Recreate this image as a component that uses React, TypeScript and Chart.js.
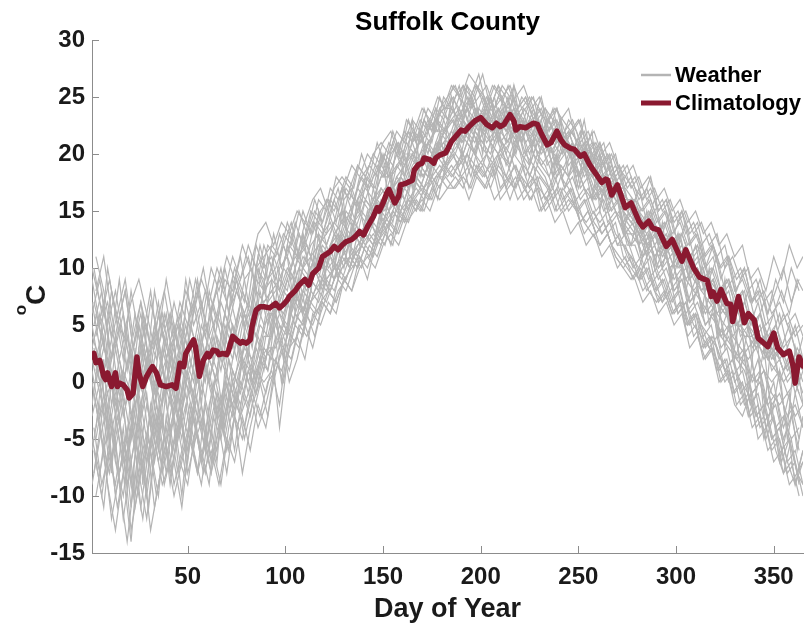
import React, { useEffect, useRef } from 'react';
import { Chart, registerables } from 'chart.js';

Chart.register(...registerables);

const TITLE = 'Suffolk County';
const X_TITLE = 'Day of Year';
const Y_TITLE_SUP = 'o';
const Y_TITLE_MAIN = 'C';
const LEGEND_LABELS = ['Weather', 'Climatology'];
const X_TICKS = [50, 100, 150, 200, 250, 300, 350];
const Y_TICKS = [-15, -10, -5, 0, 5, 10, 15, 20, 25, 30];

const CLIM_DAYS = [1, 2, 3, 5, 7, 8, 9, 11, 13, 14, 15, 17, 19, 20, 22, 24, 25, 27, 29, 31, 32, 34, 36, 39, 42, 44, 46, 48, 49, 51, 53, 54, 56, 58, 60, 61, 63, 65, 66, 68, 70, 71, 73, 75, 77, 78, 80, 82, 83, 85, 87, 89, 92, 95, 97, 99, 101, 102, 105, 107, 110, 112, 114, 117, 119, 123, 125, 127, 129, 131, 134, 136, 138, 140, 142, 145, 147, 148, 150, 152, 153, 156, 158, 159, 162, 165, 166, 168, 170, 171, 174, 176, 177, 179, 182, 183, 185, 188, 190, 192, 194, 197, 200, 201, 203, 206, 208, 210, 212, 213, 215, 217, 218, 220, 223, 227, 229, 231, 234, 236, 239, 241, 243, 246, 248, 251, 253, 256, 258, 260, 262, 264, 265, 267, 270, 274, 277, 281, 283, 286, 288, 291, 295, 298, 300, 303, 305, 309, 312, 316, 318, 319, 321, 323, 326, 328, 329, 332, 334, 335, 337, 340, 342, 345, 347, 350, 352, 355, 358, 360, 361, 363, 365];
const CLIM_VALUES = [2.2, 2.5, 1.7, 1.9, 0.5, 0.2, 0.8, -0.4, 0.8, -0.4, -0.1, -0.25, -0.7, -1.4, -1.0, 2.2, 0.8, -0.4, 0.5, 1.1, 1.35, 0.8, -0.25, -0.4, -0.25, -0.55, 1.65, 1.35, 2.5, 3.1, 3.7, 3.1, 0.5, 1.9, 2.5, 2.2, 2.8, 2.7, 2.4, 2.5, 2.4, 2.8, 4.0, 3.7, 3.4, 3.55, 3.4, 3.7, 4.9, 6.3, 6.6, 6.6, 6.5, 6.9, 6.5, 6.8, 7.2, 7.5, 8.0, 8.5, 9.0, 8.5, 9.5, 10.0, 11.0, 11.45, 11.9, 11.6, 12.0, 12.3, 12.5, 12.8, 13.2, 12.9, 13.6, 14.5, 15.3, 15.0, 15.7, 16.6, 16.9, 15.7, 16.3, 17.3, 17.45, 17.7, 18.6, 19.05, 19.2, 19.65, 19.5, 19.2, 19.65, 19.9, 20.1, 20.4, 21.1, 21.7, 22.1, 22.0, 22.4, 22.9, 23.2, 23.0, 22.6, 22.3, 22.7, 22.4, 22.6, 22.9, 23.45, 22.9, 22.1, 22.4, 22.3, 22.7, 22.6, 21.8, 20.8, 21.0, 22.0, 21.25, 20.8, 20.5, 20.4, 19.8, 20.0, 19.0, 18.5, 18.0, 17.5, 17.8, 17.7, 16.4, 17.3, 15.3, 15.7, 14.1, 13.6, 14.1, 13.5, 13.35, 11.9, 12.5, 11.75, 10.6, 11.6, 10.0, 9.2, 8.9, 7.5, 7.9, 7.1, 8.1, 6.9, 6.8, 5.3, 7.5, 6.0, 5.2, 6.0, 5.45, 3.85, 3.4, 3.1, 4.3, 3.0, 2.4, 2.7, 1.35, -0.1, 2.2, 1.4];

const WEATHER_DAYS_A = [1, 5, 9, 13, 17, 21, 25, 29, 33, 37, 41, 45, 49, 53, 57, 61, 65, 69, 73, 77, 81, 85, 89,
  93, 97, 101, 105, 109, 113, 117, 121, 125, 129, 133, 137, 141, 145, 149, 153, 157, 161, 165, 169, 173, 177, 181,
  185, 189, 193, 197, 201, 205, 209, 213, 217, 221, 225, 229, 233, 237, 241, 245, 249, 253, 257, 261, 265, 269, 273,
  277, 281, 285, 289, 293, 297, 301, 305, 309, 313, 317, 321, 325, 329, 333, 337, 341, 345, 349, 353, 357, 361, 365];
const WEATHER_DAYS_B = [3, 7, 11, 15, 19, 23, 27, 31, 35, 39, 43, 47, 51, 55, 59, 63, 67, 71, 75, 79, 83, 87, 91,
  95, 99, 103, 107, 111, 115, 119, 123, 127, 131, 135, 139, 143, 147, 151, 155, 159, 163, 167, 171, 175, 179, 183,
  187, 191, 195, 199, 203, 207, 211, 215, 219, 223, 227, 231, 235, 239, 243, 247, 251, 255, 259, 263, 267, 271, 275,
  279, 283, 287, 291, 295, 299, 303, 307, 311, 315, 319, 323, 327, 331, 335, 339, 343, 347, 351, 355, 359, 363];
const WEATHER_DAYS_C = [2, 6, 10, 14, 18, 22, 26, 30, 34, 38, 42, 46, 50, 54, 58, 62, 66, 70, 74, 78, 82, 86, 90,
  94, 98, 102, 106, 110, 114, 118, 122, 126, 130, 134, 138, 142, 146, 150, 154, 158, 162, 166, 170, 174, 178, 182,
  186, 190, 194, 198, 202, 206, 210, 214, 218, 222, 226, 230, 234, 238, 242, 246, 250, 254, 258, 262, 266, 270, 274,
  278, 282, 286, 290, 294, 298, 302, 306, 310, 314, 318, 322, 326, 330, 334, 338, 342, 346, 350, 354, 358, 362, 365];

const WEATHER_1 = [6, 9, 4, -3, -7, -5, 3, 5, 1, -4, 3, -2, 7, 4, -2, 6, 8, 3, 9, 7, 2, 10, 9,
  4, 10, 11, 6, 13, 9, 15, 12, 14, 17, 11, 16, 18, 14, 20, 16, 21, 18, 23, 19, 22, 24, 20,
  25, 21, 26, 24, 20, 25, 23, 21, 26, 22, 19, 24, 23, 18, 22, 21, 17, 20, 22, 15, 19, 17, 13,
  16, 12, 15, 10, 14, 9, 13, 8, 11, 6, 10, 4, 9, 2, 6, -1, 5, -3, 4, 0, -4, 3, -2];
const WEATHER_2 = [-3, 0, -6, -9, -4, -11, -2, -7, -3, -8, -5, -1, -4, -6, 0, -3, -7, 1, -1, 3, 0, 2, 5,
  9, 3, 5, 10, 6, 8, 13, 9, 10, 15, 12, 16, 13, 17, 14, 19, 16, 20, 17, 22, 19, 20, 23,
  21, 24, 22, 20, 23, 25, 21, 24, 20, 23, 21, 19, 22, 20, 23, 18, 21, 19, 16, 20, 15, 17, 14,
  12, 15, 11, 14, 10, 13, 8, 12, 7, 10, 5, 8, 3, 7, 1, 5, -1, 3, -3, 1, -5, -1, -4];
const WEATHER_3 = [9, 5, 7, 3, 6, 2, 5, 1, 8, 4, 6, 3, 9, 5, 7, 4, 6, 9, 8, 11, 7, 12, 10,
  11, 8, 12, 10, 13, 11, 14, 13, 16, 14, 17, 15, 18, 17, 20, 19, 21, 20, 22, 21, 23, 22, 25,
  24, 26, 23, 25, 22, 24, 26, 23, 25, 21, 24, 23, 22, 24, 21, 22, 20, 23, 19, 21, 18, 19, 17,
  15, 17, 14, 16, 13, 15, 12, 14, 11, 12, 9, 11, 8, 9, 6, 8, 5, 7, 4, 6, 3, 5, 2];
const WEATHER_4 = [0, -4, -9, -13, -8, -14, -6, -10, -5, -9, -7, -4, -8, -3, -6, -9, -2, -5, -1, -3, 1, -1, 2,
  3, -4, 2, 5, 4, 7, 6, 9, 8, 10, 11, 12, 13, 12, 14, 15, 16, 17, 18, 17, 19, 20, 21,
  20, 21, 19, 22, 21, 20, 22, 19, 21, 20, 18, 20, 19, 17, 19, 18, 16, 17, 15, 14, 15, 13, 12,
  11, 10, 12, 9, 10, 8, 9, 6, 7, 5, 4, 3, 1, 2, 0, -1, -3, -2, -5, -4, -7, -6, -9];
const WEATHER_5 = [4, 2, -1, 1, -3, 0, -4, 2, -1, 1, -2, 2, 1, -2, 3, 0, 4, 2, 5, 3, 6, 4, 7,
  8, 6, 9, 7, 10, 9, 11, 10, 13, 12, 14, 13, 16, 15, 17, 16, 18, 19, 20, 19, 21, 22, 22,
  23, 22, 24, 23, 22, 24, 23, 22, 24, 23, 21, 23, 22, 21, 22, 20, 21, 19, 20, 18, 17, 18, 16,
  15, 14, 13, 14, 12, 13, 11, 12, 10, 9, 8, 7, 6, 5, 5, 4, 3, 4, 2, 3, 1, 2, 1];
const WEATHER_6 = [-6, -2, -8, -5, -12, -7, -3, -9, -2, -6, -1, -5, 0, -3, -7, -2, 1, -4, 0, 2, -1, 3, 1,
  5, 7, 4, 8, 6, 9, 8, 11, 9, 12, 10, 13, 12, 14, 13, 16, 15, 17, 16, 19, 18, 20, 19,
  20, 19, 21, 20, 19, 21, 20, 18, 20, 19, 17, 19, 18, 16, 18, 17, 15, 16, 14, 15, 13, 14, 11,
  10, 9, 11, 8, 9, 7, 8, 5, 6, 3, 4, 1, 2, -1, 0, -3, -1, -5, -2, -7, -4, -9, -6];
const WEATHER_7 = [7, 3, 10, 6, 2, 8, 4, 0, 5, 2, 6, 1, 4, 7, 3, 8, 5, 10, 7, 9, 11, 8, 12,
  10, 13, 11, 14, 12, 15, 14, 16, 15, 17, 16, 19, 18, 20, 19, 21, 20, 22, 21, 23, 22, 24, 23,
  25, 24, 26, 25, 27, 24, 26, 25, 23, 25, 24, 22, 24, 23, 21, 23, 22, 20, 21, 19, 20, 18, 19,
  17, 18, 16, 17, 15, 16, 14, 15, 13, 14, 12, 13, 10, 11, 9, 10, 7, 8, 6, 7, 5, 6, 4];
const WEATHER_8 = [2, -1, -4, 0, -6, -3, -1, -5, 0, -2, 2, -3, 1, -1, 4, 0, 3, 1, 5, 2, 4, 7, 5,
  6, 4, 7, 5, 8, 7, 9, 8, 10, 11, 10, 12, 13, 12, 15, 14, 16, 15, 18, 17, 19, 20, 21,
  22, 21, 22, 21, 23, 21, 22, 20, 22, 21, 23, 20, 21, 19, 20, 21, 18, 19, 17, 16, 17, 15, 14,
  13, 12, 13, 11, 12, 10, 11, 9, 10, 8, 7, 6, 5, 4, 3, 2, 3, 1, 0, 1, -1, 0, -2];
const WEATHER_9 = [-9, -5, -2, -7, -10, -4, -8, -12, -6, -3, -8, -5, -2, -6, -9, -4, -1, -3, 0, -2, 1, -1, 3,
  2, 5, 3, 6, 5, 8, 7, 9, 10, 9, 11, 10, 12, 11, 13, 14, 13, 15, 16, 15, 17, 18, 19,
  18, 19, 20, 18, 19, 17, 19, 18, 17, 18, 16, 17, 15, 16, 17, 15, 16, 14, 13, 12, 13, 11, 10,
  9, 10, 8, 9, 7, 8, 6, 7, 4, 5, 3, 2, 0, 1, -2, -1, -4, -3, -6, -5, -8, -7, -10];
const WEATHER_10 = [3, 6, 1, 4, 0, 3, -1, 2, 4, 1, 3, 5, 2, 4, 1, 3, 6, 4, 2, 5, 7, 5, 8,
  9, 8, 10, 9, 11, 10, 12, 11, 13, 14, 13, 15, 14, 16, 17, 16, 18, 17, 19, 20, 21, 20, 22,
  23, 24, 22, 23, 25, 23, 24, 22, 23, 24, 22, 23, 21, 22, 21, 22, 20, 21, 19, 20, 18, 17, 16,
  16, 15, 14, 15, 13, 12, 13, 11, 10, 11, 9, 8, 7, 6, 7, 5, 4, 5, 3, 2, 3, 2, 0];
const WEATHER_11 = [-2, 3, -5, -1, 1, -3, -7, -2, -5, 0, -4, -1, -6, -2, -4, 1, -3, 0, -2, 1, 3, 0, 4,
  4, 6, 5, 7, 6, 9, 8, 10, 9, 11, 12, 11, 13, 14, 16, 15, 17, 16, 18, 19, 18, 21, 20,
  21, 22, 21, 20, 22, 21, 20, 21, 22, 20, 19, 21, 20, 18, 19, 18, 19, 17, 16, 17, 14, 15, 13,
  12, 13, 11, 12, 10, 11, 9, 10, 8, 7, 6, 5, 4, 3, 2, 1, 0, 1, -1, -2, -1, -3, -2];
const WEATHER_12 = [10, 7, 5, 8, 4, 7, 9, 6, 3, 6, 2, 5, 8, 6, 9, 7, 10, 8, 11, 9, 12, 10, 11,
  12, 11, 14, 12, 15, 13, 16, 15, 17, 18, 17, 19, 18, 20, 21, 20, 22, 21, 23, 22, 24, 23, 24,
  26, 25, 24, 26, 25, 23, 25, 24, 26, 24, 25, 23, 24, 22, 23, 24, 21, 22, 20, 21, 19, 20, 17,
  18, 16, 17, 15, 16, 14, 15, 13, 14, 12, 13, 11, 12, 9, 10, 8, 9, 7, 8, 5, 6, 4, 5];
const WEATHER_13 = [1, -3, -1, -6, -2, -9, -4, -1, -7, -3, -9, -4, -1, -5, -2, -6, -1, -4, 1, -1, 2, 0, 3,
  7, 5, 4, 9, 7, 11, 9, 12, 10, 13, 12, 14, 16, 15, 17, 16, 19, 18, 20, 18, 21, 19, 22,
  21, 23, 24, 22, 21, 23, 22, 24, 21, 22, 20, 22, 21, 20, 21, 19, 20, 18, 19, 17, 18, 16, 15,
  14, 13, 12, 11, 12, 10, 11, 9, 8, 9, 6, 7, 4, 5, 2, 3, 0, 1, -2, -1, -3, -2, -4];
const WEATHER_14 = [5, 1, -3, 3, -1, -5, 0, 3, -2, 1, -1, 2, 5, 2, -1, 2, 0, 5, 3, 6, 4, 8, 7,
  8, 9, 8, 12, 10, 11, 12, 13, 14, 13, 15, 16, 17, 16, 18, 18, 19, 20, 20, 21, 22, 23, 24,
  24, 23, 25, 24, 23, 22, 24, 23, 22, 23, 22, 21, 22, 21, 20, 21, 20, 19, 18, 19, 17, 16, 15,
  14, 15, 12, 13, 11, 12, 10, 11, 9, 8, 9, 7, 6, 7, 4, 5, 3, 4, 1, 2, 0, 1, -1];
const WEATHER_15 = [-5, -8, -3, -10, -6, -13, -9, -5, -11, -7, -4, -8, -5, -2, -7, -4, -6, -1, -3, 0, -2, 1, 0,
  1, -2, 3, 6, 5, 7, 8, 7, 9, 10, 11, 10, 12, 13, 12, 14, 15, 14, 16, 17, 16, 18, 18,
  19, 18, 20, 19, 18, 19, 20, 17, 19, 18, 17, 18, 16, 17, 15, 16, 15, 13, 14, 12, 13, 11, 10,
  11, 9, 10, 8, 7, 9, 6, 7, 5, 4, 3, 4, 1, 2, -1, 0, -3, -2, -5, -4, -7, -9, -7];
const WEATHER_16 = [3, 0, 2, -2, 1, -1, 5, 2, -2, 3, 0, -3, 2, 0, 5, 3, 1, 6, 4, 7, 5, 9, 8,
  10, 7, 9, 11, 10, 12, 13, 12, 14, 15, 14, 17, 16, 18, 19, 18, 20, 19, 21, 22, 20, 23, 22,
  24, 23, 22, 24, 23, 25, 22, 23, 24, 22, 23, 22, 20, 22, 21, 20, 19, 21, 18, 17, 16, 17, 14,
  15, 13, 14, 12, 13, 11, 12, 9, 10, 8, 9, 6, 7, 4, 5, 3, 4, 2, 3, 0, 2, -1, 1];

const WEATHER_17 = [8, 11, 6, 2, 5, -1, 4, 8, 3, 6, 1, 4, 9, 6, 2, 7, 4, 8, 5, 9, 10, 6, 11,
  9, 12, 10, 13, 11, 14, 13, 15, 17, 14, 16, 18, 17, 19, 18, 21, 19, 22, 20, 23, 21, 24, 23,
  24, 26, 25, 27, 24, 26, 25, 26, 24, 25, 23, 25, 22, 24, 22, 23, 21, 22, 20, 21, 18, 19, 17,
  18, 16, 17, 15, 16, 13, 15, 12, 13, 10, 12, 9, 11, 8, 10, 7, 9, 6, 8, 10, 7, 9];
const WEATHER_18 = [-7, -11, -4, -9, -14, -8, -12, -6, -10, -3, -7, -11, -5, -8, -2, -6, -9, -4, -1, -5, -2, 0, -3,
  2, 0, 4, 3, 6, 4, 7, 6, 9, 8, 10, 12, 11, 13, 12, 15, 14, 16, 15, 17, 16, 18, 17,
  18, 17, 19, 18, 17, 19, 18, 16, 18, 17, 19, 16, 17, 15, 16, 17, 14, 15, 13, 14, 12, 13, 11,
  10, 8, 9, 7, 8, 6, 7, 5, 6, 3, 4, 2, 0, 1, -2, -1, -4, -3, -6, -8, -5, -9];
const WEATHER_19 = [1, 4, -2, 2, -1, -4, 3, 0, 4, -1, 2, -2, 5, 3, 0, 4, 1, 5, 2, 6, 3, 8, 5,
  7, 5, 8, 10, 9, 11, 10, 12, 13, 11, 14, 13, 15, 16, 15, 17, 18, 17, 19, 20, 18, 21, 20,
  22, 21, 23, 22, 24, 21, 23, 22, 21, 23, 20, 22, 21, 19, 21, 20, 18, 20, 17, 18, 16, 17, 15,
  14, 13, 15, 12, 13, 11, 12, 10, 11, 8, 9, 7, 8, 5, 6, 4, 5, 2, 3, 1, 2, 0];
const WEATHER_20 = [-4, 2, -8, 1, -5, 3, -9, -2, -6, 2, -4, -10, -3, 1, -5, 0, -3, 2, -2, 4, 0, 3, 1,
  6, 2, 7, 9, 6, 10, 8, 12, 9, 13, 11, 12, 14, 13, 16, 14, 17, 15, 18, 17, 19, 18, 21,
  20, 22, 21, 23, 20, 22, 21, 19, 22, 20, 21, 19, 20, 18, 19, 21, 17, 18, 16, 17, 15, 16, 14,
  13, 11, 12, 10, 11, 9, 10, 7, 8, 6, 7, 4, 5, 2, 3, 0, 1, -2, -1, -4, -2, -5];
const WEATHER_21 = [6, 3, 8, 5, 1, 6, 2, 7, 4, 9, 5, 2, 6, 8, 4, 7, 10, 6, 9, 7, 11, 9, 12,
  11, 13, 12, 15, 13, 16, 14, 17, 16, 18, 17, 20, 18, 21, 19, 22, 20, 23, 21, 24, 22, 25, 23,
  25, 26, 24, 25, 26, 24, 25, 23, 24, 25, 23, 24, 22, 23, 21, 22, 23, 20, 21, 19, 20, 18, 19,
  17, 16, 18, 15, 16, 14, 15, 13, 14, 11, 12, 10, 11, 9, 10, 7, 8, 6, 9, 7, 10, 8];
const WEATHER_22 = [-2, -6, -3, -8, -4, -10, -6, -3, -7, -4, -9, -6, -2, -5, -8, -3, -5, -1, -4, -2, 0, 2, 1,
  4, 3, 5, 7, 6, 8, 9, 8, 10, 11, 10, 12, 13, 12, 14, 15, 14, 16, 17, 16, 18, 19, 18,
  19, 20, 18, 21, 20, 19, 21, 20, 18, 20, 19, 18, 17, 19, 17, 18, 16, 17, 15, 16, 14, 15, 12,
  12, 10, 11, 9, 10, 8, 9, 6, 7, 5, 6, 3, 4, 1, 2, -1, 0, -3, -2, -5, -3, -6];
const WEATHER_23 = [4, 7, 2, 5, 3, 0, 6, 3, 7, 2, 5, 1, 4, 9, 5, 3, 7, 5, 8, 6, 4, 9, 7,
  8, 10, 9, 11, 12, 10, 13, 14, 12, 15, 14, 16, 15, 17, 19, 17, 18, 20, 19, 21, 20, 22, 21,
  23, 24, 22, 24, 23, 25, 22, 24, 23, 22, 24, 21, 23, 21, 22, 20, 22, 19, 20, 18, 19, 17, 16,
  16, 14, 15, 13, 14, 12, 13, 11, 12, 10, 11, 8, 9, 7, 8, 5, 6, 4, 5, 3, 4, 2];
const WEATHER_24 = [-10, -6, -12, -8, -5, -11, -7, -13, -9, -6, -10, -7, -4, -8, -5, -7, -3, -6, -2, -4, -1, -3, 0,
  1, 3, 2, 5, 4, 6, 7, 6, 8, 9, 11, 10, 12, 11, 13, 12, 15, 14, 16, 15, 17, 16, 17,
  17, 18, 17, 19, 18, 16, 17, 18, 16, 17, 18, 15, 16, 17, 15, 16, 14, 15, 13, 14, 12, 11, 10,
  9, 7, 8, 6, 7, 5, 6, 3, 4, 2, 3, 0, 1, -2, -1, -4, -3, -6, -5, -8, -7, -10];
const WEATHER_25 = [2, 5, 0, -3, 2, -2, 1, -4, 3, 0, -2, 1, -1, 4, 1, -1, 3, 0, 4, 1, 5, 3, 6,
  6, 8, 7, 9, 8, 10, 12, 11, 13, 12, 14, 15, 14, 16, 17, 16, 18, 17, 19, 18, 20, 21, 20,
  22, 23, 22, 21, 23, 22, 24, 22, 21, 22, 21, 23, 20, 21, 22, 19, 20, 21, 18, 19, 17, 18, 16,
  15, 13, 14, 12, 13, 11, 12, 9, 10, 8, 9, 6, 7, 5, 6, 3, 4, 2, 3, 1, 2, 0];
const WEATHER_26 = [11, 8, 4, 9, 3, -1, 5, 1, 6, 3, 7, 4, 1, 5, 8, 5, 2, 6, 9, 5, 8, 12, 9,
  10, 12, 14, 11, 13, 15, 14, 16, 15, 17, 16, 18, 19, 18, 20, 19, 21, 22, 21, 23, 22, 24, 25,
  26, 24, 25, 23, 25, 24, 26, 25, 23, 24, 25, 22, 23, 24, 21, 22, 20, 21, 19, 20, 18, 19, 16,
  16, 15, 16, 14, 15, 12, 13, 11, 12, 9, 10, 8, 9, 6, 7, 5, 6, 3, 4, 6, 4, 5];
const WEATHER_27 = [-5, -1, -7, -3, -9, -5, -1, -6, -3, -8, -2, -5, 0, -3, -6, -1, -4, 0, -2, 1, -1, 2, 3,
  3, 5, 4, 6, 7, 6, 9, 8, 10, 9, 11, 12, 11, 13, 14, 13, 15, 16, 15, 17, 18, 17, 19,
  20, 19, 21, 19, 20, 18, 20, 19, 21, 18, 20, 19, 18, 20, 17, 19, 18, 16, 17, 15, 16, 14, 13,
  13, 11, 12, 10, 11, 8, 9, 7, 8, 5, 6, 4, 3, 2, 1, -1, 0, -2, -4, -3, -5, -4];
const WEATHER_28 = [0, 3, 1, -2, 4, 1, -1, 2, -3, 0, 3, -1, 2, 0, 3, 1, -2, 2, 0, 3, 2, 5, 4,
  7, 6, 8, 7, 9, 10, 9, 11, 10, 12, 13, 12, 14, 15, 14, 16, 15, 17, 18, 17, 19, 20, 19,
  21, 20, 22, 23, 21, 22, 20, 21, 23, 21, 22, 20, 21, 19, 20, 21, 19, 20, 18, 17, 18, 16, 15,
  14, 12, 13, 11, 12, 10, 11, 9, 10, 8, 9, 7, 6, 5, 4, 4, 3, 2, 1, 0, 1, -1];

const WEATHER_29 = [-4, -9, -6, -11, -7, -3, -8, -5, -10, -6, -2, -7, -9, -4, -8, -6, -9, -5, -7, -3, -6, -2, -4,
  0, 3, 1, 4, 2, 6, 5, 7, 6, 9, 8, 10, 11, 10, 12, 13, 12, 14, 15, 16, 15, 17, 18,
  17, 18, 16, 18, 17, 19, 16, 17, 18, 16, 17, 15, 16, 14, 15, 13, 14, 12, 13, 11, 12, 10, 11,
  9, 10, 8, 7, 8, 6, 7, 4, 5, 2, 3, 0, 1, -2, -3, -1, -5, -4, -7, -6, -9, -8, -7];
const WEATHER_30 = [10, 6, 9, 5, 8, 3, 7, 4, 2, 6, 3, 7, 5, 9, 6, 10, 8, 11, 9, 12, 10, 13, 14,
  12, 14, 13, 15, 14, 16, 17, 15, 18, 17, 19, 18, 20, 19, 21, 22, 20, 23, 22, 24, 23, 25, 24,
  26, 25, 27, 26, 24, 26, 25, 24, 25, 26, 24, 25, 23, 24, 23, 22, 23, 21, 22, 20, 21, 19, 18,
  19, 17, 18, 16, 17, 15, 16, 14, 15, 13, 14, 12, 13, 11, 12, 9, 10, 8, 11, 9, 12, 10, 11];
const WEATHER_31 = [-1, -5, -8, -3, -6, -10, -4, -7, -2, -5, -8, -3, -6, -1, -4, -8, -5, -2, -6, -1, -3, 1, -1,
  2, 1, 3, 4, 6, 5, 7, 8, 7, 9, 10, 11, 10, 12, 13, 14, 13, 15, 16, 17, 16, 18, 19,
  20, 18, 19, 21, 19, 18, 20, 19, 17, 19, 18, 17, 16, 18, 16, 17, 15, 14, 15, 13, 14, 12, 13,
  11, 9, 10, 8, 9, 7, 8, 5, 6, 4, 5, 2, 3, 0, 1, -2, -1, -4, -3, -6, -5, -8, -6];
const WEATHER_32 = [5, 8, 3, 6, 9, 4, 7, 2, 5, 8, 4, 6, 3, 7, 10, 6, 9, 7, 10, 8, 6, 11, 9,
  13, 10, 12, 11, 14, 13, 15, 16, 14, 17, 15, 18, 17, 19, 18, 20, 21, 19, 22, 21, 23, 22, 24,
  25, 23, 24, 26, 25, 23, 24, 26, 24, 23, 25, 24, 22, 23, 21, 22, 21, 20, 21, 19, 20, 17, 18,
  17, 15, 16, 14, 15, 13, 14, 12, 13, 11, 12, 10, 11, 8, 9, 7, 8, 5, 6, 8, 6, 9, 8];
const WEATHER_33 = [-8, -3, 1, -4, -9, -2, -6, -11, -5, 0, -6, -3, -7, -1, -5, -8, -2, -6, -3, -8, -4, -1, 2,
  5, 0, 6, 8, 5, 9, 11, 8, 12, 10, 14, 12, 15, 13, 16, 18, 15, 19, 17, 20, 18, 21, 19,
  22, 20, 23, 21, 24, 20, 22, 21, 23, 20, 21, 22, 19, 20, 18, 20, 17, 19, 16, 17, 15, 16, 13,
  14, 11, 13, 10, 12, 9, 11, 7, 9, 6, 8, 4, 6, 2, 4, 0, 2, -2, 0, -4, -1, -6, -3];
const WEATHER_34 = [3, -1, 5, 0, -2, 2, -3, 1, -1, 3, 0, -4, 1, -2, 2, -1, -4, 0, -3, 2, 1, 4, 2,
  6, 8, 10, 8, 11, 9, 12, 10, 11, 13, 15, 13, 14, 16, 15, 17, 16, 18, 20, 18, 19, 21, 22,
  23, 21, 22, 24, 22, 23, 21, 22, 20, 23, 21, 20, 22, 19, 21, 20, 18, 19, 17, 18, 16, 17, 14,
  15, 13, 12, 13, 11, 12, 10, 11, 9, 10, 7, 8, 6, 7, 5, 6, 3, 4, 2, 3, 1, 3, 2];
const WEATHER_35 = [-6, -10, -5, -2, -8, -4, -11, -6, -3, -9, -6, -2, -8, -5, -3, -7, -4, -8, -3, -5, -1, -4, -2,
  1, 4, 0, 2, 5, 3, 6, 8, 7, 9, 8, 11, 9, 12, 14, 12, 15, 14, 16, 15, 18, 16, 19,
  18, 20, 17, 19, 18, 20, 17, 18, 19, 17, 16, 18, 17, 15, 17, 16, 15, 16, 14, 13, 14, 12, 12,
  10, 11, 9, 10, 8, 6, 7, 5, 6, 3, 4, 1, 2, -1, 0, -3, -2, -5, -3, -7, -5, -8, -9];
const WEATHER_36 = [7, 4, 1, 5, 8, 3, 6, 2, -1, 4, 1, 5, 3, 0, 4, 6, 3, 7, 4, 8, 6, 10, 8,
  11, 9, 13, 11, 12, 14, 12, 15, 13, 16, 17, 15, 18, 17, 20, 18, 19, 21, 20, 22, 21, 23, 22,
  24, 22, 25, 23, 24, 22, 23, 25, 22, 24, 23, 21, 23, 22, 20, 22, 21, 19, 20, 18, 19, 17, 17,
  16, 14, 15, 13, 14, 12, 13, 10, 12, 9, 10, 8, 9, 7, 8, 5, 7, 4, 6, 3, 5, 2, 4];

const WEATHER_SERIES_A = [WEATHER_1, WEATHER_2, WEATHER_3, WEATHER_4, WEATHER_5, WEATHER_6, WEATHER_7, WEATHER_8,
  WEATHER_9, WEATHER_10, WEATHER_11, WEATHER_12, WEATHER_13, WEATHER_14, WEATHER_15, WEATHER_16];
const WEATHER_SERIES_B = [WEATHER_17, WEATHER_18, WEATHER_19, WEATHER_20, WEATHER_21, WEATHER_22,
  WEATHER_23, WEATHER_24, WEATHER_25, WEATHER_26, WEATHER_27, WEATHER_28];
const WEATHER_SERIES_C = [WEATHER_29, WEATHER_30, WEATHER_31, WEATHER_32, WEATHER_33, WEATHER_34,
  WEATHER_35, WEATHER_36];

const GRAY = '#b4b4b4';
const RED = '#8a1930';
const AXIS_COLOR = '#8c8c8c';
const TEXT_COLOR = '#1a1a1a';
const FONT_FAMILY = '"Liberation Sans", Arial, Helvetica, sans-serif';

const overlayPlugin = {
  id: 'overlay',
  beforeDatasetsDraw(chart: any) {
    const { ctx, chartArea, scales } = chart;
    ctx.save();
    ctx.strokeStyle = AXIS_COLOR;
    ctx.lineWidth = 1;
    for (const v of X_TICKS) {
      const px = Math.round(scales.x.getPixelForValue(v)) + 0.5;
      ctx.beginPath();
      ctx.moveTo(px, chartArea.bottom);
      ctx.lineTo(px, chartArea.bottom - 7);
      ctx.stroke();
    }
    for (const v of Y_TICKS) {
      const py = Math.round(scales.y.getPixelForValue(v)) + 0.5;
      ctx.beginPath();
      ctx.moveTo(chartArea.left, py);
      ctx.lineTo(chartArea.left + 7, py);
      ctx.stroke();
    }
    ctx.restore();
  },
  afterDraw(chart: any) {
    const { ctx, chartArea } = chart;
    const cx = (chartArea.left + chartArea.right) / 2;
    ctx.save();
    ctx.fillStyle = '#000';
    ctx.textAlign = 'center';
    ctx.textBaseline = 'alphabetic';
    ctx.font = `bold 26px ${FONT_FAMILY}`;
    ctx.fillText(TITLE, cx, 30);
    ctx.fillStyle = TEXT_COLOR;
    ctx.font = `bold 27px ${FONT_FAMILY}`;
    ctx.fillText(X_TITLE, cx, 617);

    ctx.save();
    ctx.translate(45, 300);
    ctx.rotate(-Math.PI / 2);
    ctx.textAlign = 'left';
    ctx.font = `bold 17px ${FONT_FAMILY}`;
    const wSup = ctx.measureText(Y_TITLE_SUP).width;
    ctx.font = `bold 28px ${FONT_FAMILY}`;
    const wMain = ctx.measureText(Y_TITLE_MAIN).width;
    const start = -(wSup + wMain) / 2;
    ctx.font = `bold 17px ${FONT_FAMILY}`;
    ctx.fillText(Y_TITLE_SUP, start, -19);
    ctx.font = `bold 28px ${FONT_FAMILY}`;
    ctx.fillText(Y_TITLE_MAIN, start + wSup, 0);
    ctx.restore();

    const items = [
      { label: LEGEND_LABELS[0], color: GRAY, width: 2.5, y: 75 },
      { label: LEGEND_LABELS[1], color: RED, width: 5, y: 103 },
    ];
    ctx.textAlign = 'left';
    ctx.textBaseline = 'middle';
    ctx.font = `bold 22px ${FONT_FAMILY}`;
    for (const it of items) {
      ctx.strokeStyle = it.color;
      ctx.lineWidth = it.width;
      ctx.beginPath();
      ctx.moveTo(641, it.y);
      ctx.lineTo(671, it.y);
      ctx.stroke();
      ctx.fillStyle = '#000';
      ctx.fillText(it.label, 675, it.y + 1);
    }
    ctx.restore();
  },
};

function weatherDataset(vals: number[], days: number[], k: number) {
  return {
    label: `${LEGEND_LABELS[0]} ${k + 1}`,
    data: vals.map((v, i) => ({ x: days[i], y: v })),
    borderColor: GRAY,
    borderWidth: 1.2,
    pointRadius: 0,
    tension: 0,
    order: 1,
  };
}

export default function App() {
  const canvasRef = useRef<HTMLCanvasElement>(null);

  useEffect(() => {
    const canvas = canvasRef.current;
    if (!canvas) return;
    const datasets: any[] = [
      {
        label: LEGEND_LABELS[1],
        data: CLIM_DAYS.map((d, i) => ({ x: d, y: CLIM_VALUES[i] })),
        borderColor: RED,
        borderWidth: 5.5,
        pointRadius: 0,
        tension: 0,
        order: 0,
        borderJoinStyle: 'round',
        borderCapStyle: 'round',
      },
      ...WEATHER_SERIES_A.map((vals, k) => weatherDataset(vals, WEATHER_DAYS_A, k)),
      ...WEATHER_SERIES_B.map((vals, k) => weatherDataset(vals, WEATHER_DAYS_B, k + 16)),
      ...WEATHER_SERIES_C.map((vals, k) => weatherDataset(vals, WEATHER_DAYS_C, k + 28)),
    ];
    const chart = new Chart(canvas, {
      type: 'line',
      data: { datasets },
      options: {
        animation: false,
        responsive: false,
        events: [],
        layout: { padding: { left: 0, right: 1, top: 40, bottom: 0 } },
        plugins: {
          legend: { display: false },
          title: { display: false },
          tooltip: { enabled: false },
        },
        scales: {
          x: {
            type: 'linear',
            min: 1,
            max: 365,
            afterBuildTicks: (scale: any) => {
              scale.ticks = X_TICKS.map((v) => ({ value: v }));
            },
            afterFit: (scale: any) => {
              scale.height = 72;
            },
            grid: { display: false, drawTicks: false },
            border: { display: true, color: AXIS_COLOR, width: 1 },
            ticks: {
              autoSkip: false,
              maxRotation: 0,
              padding: 10,
              color: TEXT_COLOR,
              font: { family: FONT_FAMILY, size: 24, weight: 'bold' },
            },
          },
          y: {
            type: 'linear',
            min: -15,
            max: 30,
            afterBuildTicks: (scale: any) => {
              scale.ticks = Y_TICKS.map((v) => ({ value: v }));
            },
            afterFit: (scale: any) => {
              scale.width = 92;
            },
            grid: { display: false, drawTicks: false },
            border: { display: true, color: AXIS_COLOR, width: 1 },
            ticks: {
              autoSkip: false,
              padding: 7,
              color: TEXT_COLOR,
              font: { family: FONT_FAMILY, size: 24, weight: 'bold' },
            },
          },
        },
      },
      plugins: [overlayPlugin],
    } as any);
    return () => chart.destroy();
  }, []);

  return (
    <div style={{ position: 'absolute', left: 0, top: 0, width: 804, height: 625, background: '#fff' }}>
      <canvas ref={canvasRef} width={804} height={625} style={{ display: 'block' }} />
    </div>
  );
}
